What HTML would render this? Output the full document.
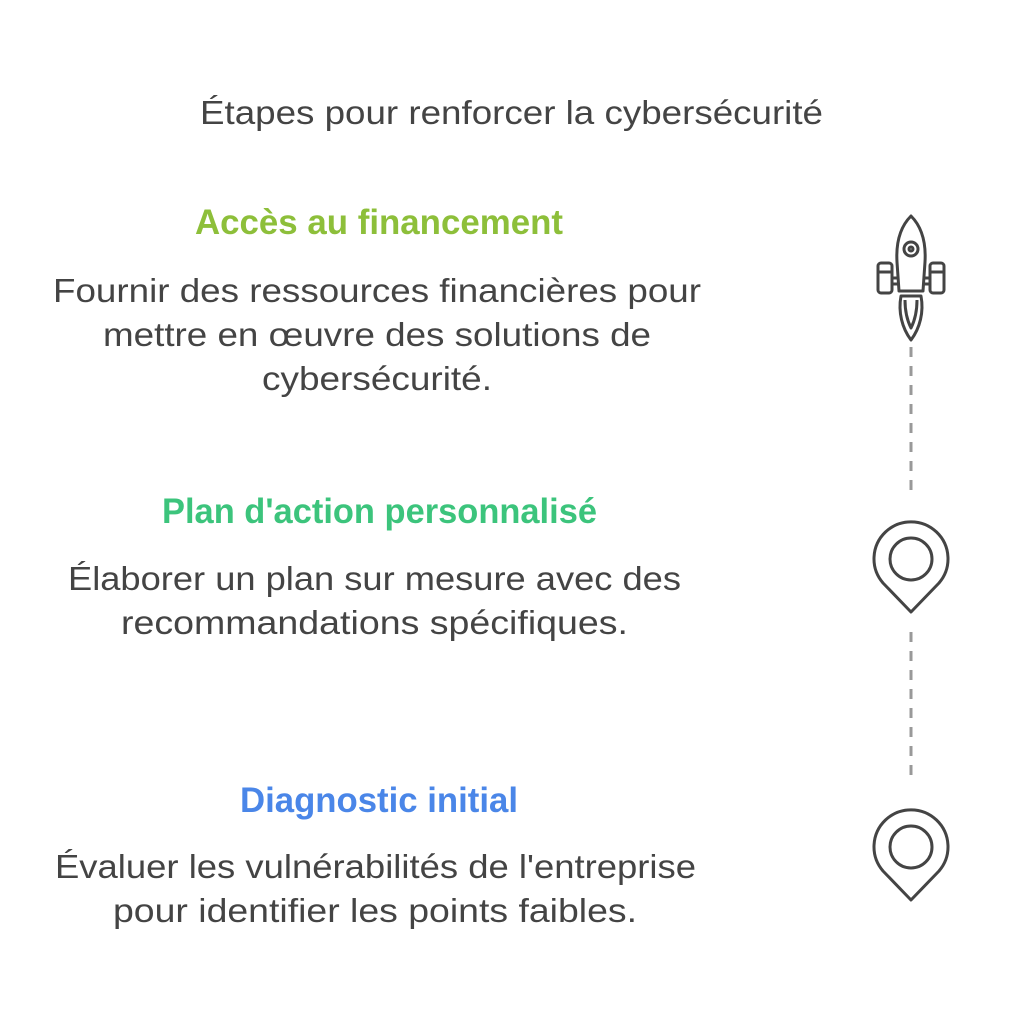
<!DOCTYPE html>
<html><head><meta charset="utf-8"><style>
html,body{margin:0;padding:0;background:#fff;}
svg{display:block}
text{font-family:"Liberation Sans",Arial,sans-serif;}
</style></head><body>
<svg width="1024" height="1024" viewBox="0 0 1024 1024" xmlns="http://www.w3.org/2000/svg">
<rect width="1024" height="1024" fill="#fff"/>
<g fill="#444" font-size="33">
<text x="200" y="124" textLength="623" lengthAdjust="spacingAndGlyphs">Étapes pour renforcer la cybersécurité</text>
<text x="53" y="302" textLength="648" lengthAdjust="spacingAndGlyphs">Fournir des ressources financières pour</text>
<text x="103" y="346" textLength="548" lengthAdjust="spacingAndGlyphs">mettre en œuvre des solutions de</text>
<text x="262" y="390" textLength="230" lengthAdjust="spacingAndGlyphs">cybersécurité.</text>
<text x="68" y="590" textLength="613" lengthAdjust="spacingAndGlyphs">Élaborer un plan sur mesure avec des</text>
<text x="121" y="634" textLength="507" lengthAdjust="spacingAndGlyphs">recommandations spécifiques.</text>
<text x="55" y="878" textLength="641" lengthAdjust="spacingAndGlyphs">Évaluer les vulnérabilités de l'entreprise</text>
<text x="113" y="922" textLength="524" lengthAdjust="spacingAndGlyphs">pour identifier les points faibles.</text>
</g>
<g font-size="35" font-weight="bold">
<text x="195" y="234" fill="#8dbf3a" textLength="368" lengthAdjust="spacingAndGlyphs">Accès au financement</text>
<text x="162" y="523" fill="#3cc47c" textLength="435" lengthAdjust="spacingAndGlyphs">Plan d'action personnalisé</text>
<text x="240" y="812" fill="#4a86e8" textLength="278" lengthAdjust="spacingAndGlyphs">Diagnostic initial</text>
</g>
<g stroke="#999" stroke-width="3" stroke-dasharray="10 9">
<line x1="911" y1="347" x2="911" y2="490"/>
<line x1="911" y1="632" x2="911" y2="778"/>
</g>
<g fill="none" stroke="#444" stroke-width="3" stroke-linejoin="round">
<path d="M911 216 C899 228 896 245 897 262 L899 291 L923 291 L925 262 C926 245 923 228 911 216 Z"/>
<circle cx="911" cy="249" r="7"/>
<circle cx="911" cy="249" r="2"/>
<path d="M901 296 C898 312 902 328 911 340 C920 328 924 312 921 296 Z"/>
<path d="M905 300 C905 312 908 322 911 328 C914 322 917 312 917 300"/>
<rect x="878" y="263" width="14" height="30" rx="3"/>
<rect x="930" y="263" width="14" height="30" rx="3"/>
<line x1="878" y1="272" x2="892" y2="272"/>
<line x1="930" y1="272" x2="944" y2="272"/>
<line x1="892" y1="278" x2="899" y2="278"/>
<line x1="923" y1="278" x2="930" y2="278"/>
<line x1="892" y1="284" x2="899" y2="284"/>
<line x1="923" y1="284" x2="930" y2="284"/>
<path d="M911 612 L883 583 A37 37 0 1 1 939 583 Z"/>
<circle cx="911" cy="559" r="21"/>
<path d="M911 900 L883 871 A37 37 0 1 1 939 871 Z"/>
<circle cx="911" cy="847" r="21"/>
</g>
</svg>
</body></html>
